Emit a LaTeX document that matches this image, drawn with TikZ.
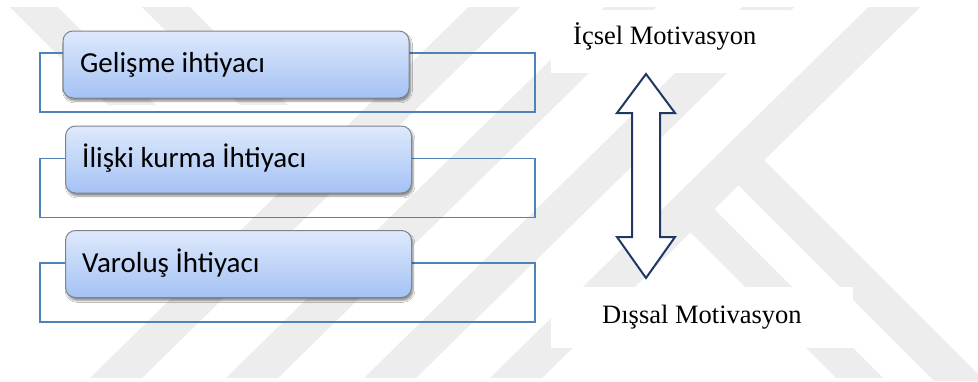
\documentclass[tikz,border=0pt]{standalone}
\usepackage{fontspec}
\setmainfont{Liberation Serif}
\newfontfamily\calib{Carlito}
\usetikzlibrary{shadows.blur}
\definecolor{wm}{HTML}{EDEDED}
\definecolor{frameblue}{HTML}{4F81BD}
\definecolor{boxtop}{HTML}{DEE9FC}
\definecolor{boxbot}{HTML}{A4C2F4}
\definecolor{boxline}{HTML}{7C858E}
\definecolor{navy}{HTML}{1F3864}
\begin{document}
\begin{tikzpicture}[x=1pt,y=-1pt,
  frame/.style={draw=frameblue, line width=1.6pt, minimum width=495pt, minimum height=59pt, inner sep=0pt},
  needbox/.style={draw=boxline, line width=1pt, rounded corners=10pt,
    top color=boxtop, bottom color=boxbot,
    blur shadow={shadow xshift=1.5pt, shadow yshift=-3pt, shadow blur steps=6, shadow opacity=45},
    minimum width=346pt, minimum height=67pt, inner sep=0pt},
  needtext/.style={font=\calib\fontsize{29}{34}\selectfont, anchor=base west, inner sep=0pt},
  mottext/.style={font=\fontsize{26.5}{32}\selectfont, anchor=base west, inner sep=0pt},
  whitebg/.style={fill=white, draw=none, inner sep=0pt},
  band/.style={fill=wm, draw=none}]
\useasboundingbox (0,0) rectangle (978,381);
\fill[white] (0,0) rectangle (978,381);
% watermark
\begin{scope}
\clip (0,0) rectangle (978,381);
\foreach \b in {90,226,364,490}{
  \fill[band] (\b,378) -- ({\b+52},378) -- ({\b+52+378.4},7) -- ({\b+378.4},7) -- cycle;
}
\fill[band] (764,160) -- (985,381) -- (934,381) -- (738,185) -- cycle;
\fill[band] (714,209) -- (883,378) -- (836,378) -- (690,232) -- cycle;
\fill[band] (10,7) -- (58,7) -- (156,105) -- (108,105) -- cycle;
\fill[band] (142,7) -- (190,7) -- (288,105) -- (240,105) -- cycle;
\end{scope}
% white backgrounds of the motivation labels
\node[whitebg, minimum width=239pt, minimum height=63pt] (bgi) at (670.5,41.5) {};
\node[whitebg, minimum width=302pt, minimum height=61pt] (bgd) at (702,317.5) {};
% frames
\node[frame] (r1) at (287.5,82.5) {};
\node[frame] (r2) at (287.5,188) {};
\node[frame] (r3) at (287.5,292.5) {};
% need boxes
\node[needbox] (b1) at (236,64.5) {};
\node[needbox] (b2) at (238.5,159.5) {};
\node[needbox] (b3) at (238.5,264) {};
\node[needtext] (t1) at (80,72) {Gelişme ihtiyacı};
\node[needtext] (t2) at (82,167) {İlişki kurma İhtiyacı};
\node[needtext] (t3) at (82,272) {Varoluş İhtiyacı};
% labels
\node[mottext] (ic) at (573,44) {İçsel Motivasyon};
\node[mottext] (dis) at (602,323) {Dışsal Motivasyon};
% double arrow
\draw[navy, line width=2pt, fill=white, line join=miter]
  (646,74) -- (675,113) -- (660,113) -- (660,237) -- (675,237) -- (646,278)
  -- (617,237) -- (632,237) -- (632,113) -- (617,113) -- cycle;
\end{tikzpicture}
\end{document}
